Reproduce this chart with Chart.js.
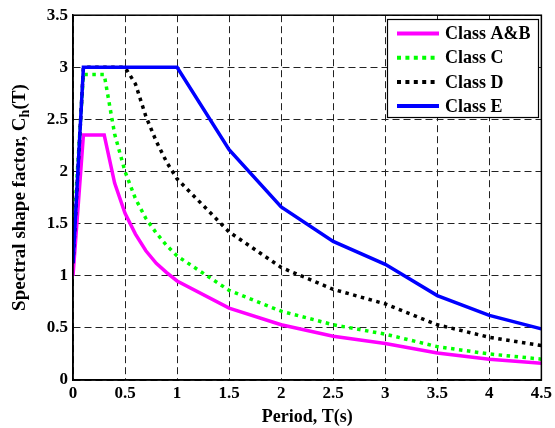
<!DOCTYPE html>
<html>
<head>
<meta charset="utf-8">
<script src="https://cdn.jsdelivr.net/npm/chart.js@4/dist/chart.umd.min.js"></script>
<style>
  html, body { margin: 0; padding: 0; background: #fff; }
  #wrap { width: 555px; height: 428px; }
</style>
</head>
<body>
<div id="wrap"><canvas id="shapeChart"></canvas></div>
<script>
// Period T(s)
var periods = [0, 0.1, 0.2, 0.3, 0.4, 0.5, 0.6, 0.7, 0.8, 0.9, 1.0, 1.5, 2.0, 2.5, 3.0, 3.5, 4.0, 4.5];

// spectral shape factor per site class
var classAB = [1.00, 2.35, 2.35, 2.35, 1.89, 1.60, 1.40, 1.24, 1.12, 1.03, 0.95, 0.69, 0.53, 0.42, 0.35, 0.26, 0.20, 0.16];
var classC  = [1.33, 2.93, 2.93, 2.93, 2.36, 2.00, 1.74, 1.55, 1.41, 1.29, 1.19, 0.86, 0.66, 0.53, 0.44, 0.32, 0.25, 0.20];
var classD  = [1.12, 3.00, 3.00, 3.00, 3.00, 3.00, 2.84, 2.53, 2.29, 2.09, 1.93, 1.42, 1.08, 0.87, 0.73, 0.53, 0.41, 0.33];
var classE  = [1.12, 3.00, 3.00, 3.00, 3.00, 3.00, 3.00, 3.00, 3.00, 3.00, 3.00, 2.21, 1.66, 1.33, 1.11, 0.81, 0.62, 0.49];

var seriesNames = ['Class A&B', 'Class C', 'Class D', 'Class E'];
var xTicks = [0, 0.5, 1, 1.5, 2, 2.5, 3, 3.5, 4, 4.5];

var FAM = '"Liberation Serif", "Times New Roman", serif';
var FONT = 'bold 18px ' + FAM;

function pts(ys) {
    return periods.map(function(t, i) { return { x: t, y: ys[i] }; });
}

// solid for A&B and E, dotted for C and D
var styles = [
    { color: '#FF00FF', dash: [] },
    { color: '#00FF00', dash: [3.5, 4.5] },
    { color: '#000000', dash: [3.5, 4.5] },
    { color: '#0000FF', dash: [] }
];
var allData = [classAB, classC, classD, classE];

var datasets = allData.map(function(ys, i) {
    return {
        label: seriesNames[i],
        data: pts(ys),
        borderColor: styles[i].color,
        backgroundColor: styles[i].color,
        borderWidth: 3.5,
        borderDash: styles[i].dash,
        pointRadius: 0,
        tension: 0,
        order: 3 - i   // later classes drawn on top
    };
});

// box legend inside the plot, top right
var boxLegend = {
    id: 'boxLegend',
    afterDraw: function(chart) {
        var ctx = chart.ctx;
        var x0 = 387.5, y0 = 19.5, w = 151, h = 98;
        ctx.save();
        ctx.fillStyle = '#fff';
        ctx.fillRect(x0, y0, w, h);
        ctx.strokeStyle = '#000';
        ctx.lineWidth = 1.2;
        ctx.strokeRect(x0, y0, w, h);
        ctx.font = FONT;
        ctx.textBaseline = 'middle';
        for (var i = 0; i < seriesNames.length; i++) {
            var yy = 33.5 + i * 24.2;
            ctx.beginPath();
            ctx.strokeStyle = styles[i].color;
            ctx.lineWidth = 4;
            ctx.setLineDash(styles[i].dash.length ? [4, 4.4] : []);
            ctx.moveTo(397, yy);
            ctx.lineTo(439, yy);
            ctx.stroke();
            ctx.setLineDash([]);
            ctx.fillStyle = '#000';
            ctx.fillText(seriesNames[i], 445, yy + 1);
        }
        ctx.restore();
    }
};

// y title with subscript h, plus frame around plot
var extras = {
    id: 'extras',
    afterDraw: function(chart) {
        var ctx = chart.ctx;
        var a = chart.chartArea;
        ctx.save();
        ctx.strokeStyle = '#000';
        ctx.lineWidth = 1.5;
        ctx.strokeRect(a.left, a.top, a.right - a.left, a.bottom - a.top);

        ctx.translate(20, (a.top + a.bottom) / 2);
        ctx.rotate(-Math.PI / 2);
        ctx.fillStyle = '#000';
        ctx.textBaseline = 'middle';
        var big = 'bold 19px ' + FAM;
        var sub = 'bold 14px ' + FAM;
        var p1 = 'Spectral shape factor, C', p2 = 'h', p3 = '(T)';
        ctx.font = big;
        var w1 = ctx.measureText(p1).width, w3 = ctx.measureText(p3).width;
        ctx.font = sub;
        var w2 = ctx.measureText(p2).width;
        var sx = -(w1 + w2 + w3) / 2;
        ctx.font = big;
        ctx.fillText(p1, sx, 0);
        ctx.font = sub;
        ctx.fillText(p2, sx + w1, 5);
        ctx.font = big;
        ctx.fillText(p3, sx + w1 + w2, 0);
        ctx.restore();
    }
};

var gridStyle = {
    color: '#222',
    lineWidth: 1,
    drawTicks: false
};
var borderStyle = { display: true, color: '#000', width: 1.5, dash: [7, 4] };

new Chart(document.getElementById('shapeChart').getContext('2d'), {
    type: 'line',
    data: { datasets: datasets },
    options: {
        responsive: true,
        maintainAspectRatio: false,
        animation: false,
        layout: { padding: { top: 12, right: 12, left: 0, bottom: 0 } },
        plugins: {
            legend: { display: false },
            tooltip: { enabled: false }
        },
        scales: {
            x: {
                type: 'linear',
                min: 0,
                max: 4.5,
                afterFit: function(s) { s.height = 48; },
                afterBuildTicks: function(s) { s.ticks = xTicks.map(function(v) { return { value: v }; }); },
                grid: gridStyle,
                border: borderStyle,
                ticks: {
                    color: '#000',
                    font: { family: FAM, size: 17, weight: 'bold' },
                    padding: 3,
                    maxRotation: 0,
                    autoSkip: false,
                    callback: function(v) { return String(v); }
                },
                title: {
                    display: true,
                    text: 'Period, T(s)',
                    color: '#000',
                    font: { family: FAM, size: 18, weight: 'bold' },
                    padding: { top: 0, bottom: 0 }
                }
            },
            y: {
                min: 0,
                max: 3.5,
                afterFit: function(s) { s.width = 73; },
                grid: gridStyle,
                border: borderStyle,
                ticks: {
                    stepSize: 0.5,
                    color: '#000',
                    font: { family: FAM, size: 17, weight: 'bold' },
                    padding: 5,
                    callback: function(v) { return String(v); }
                }
            }
        }
    },
    plugins: [boxLegend, extras]
});
</script>
</body>
</html>
